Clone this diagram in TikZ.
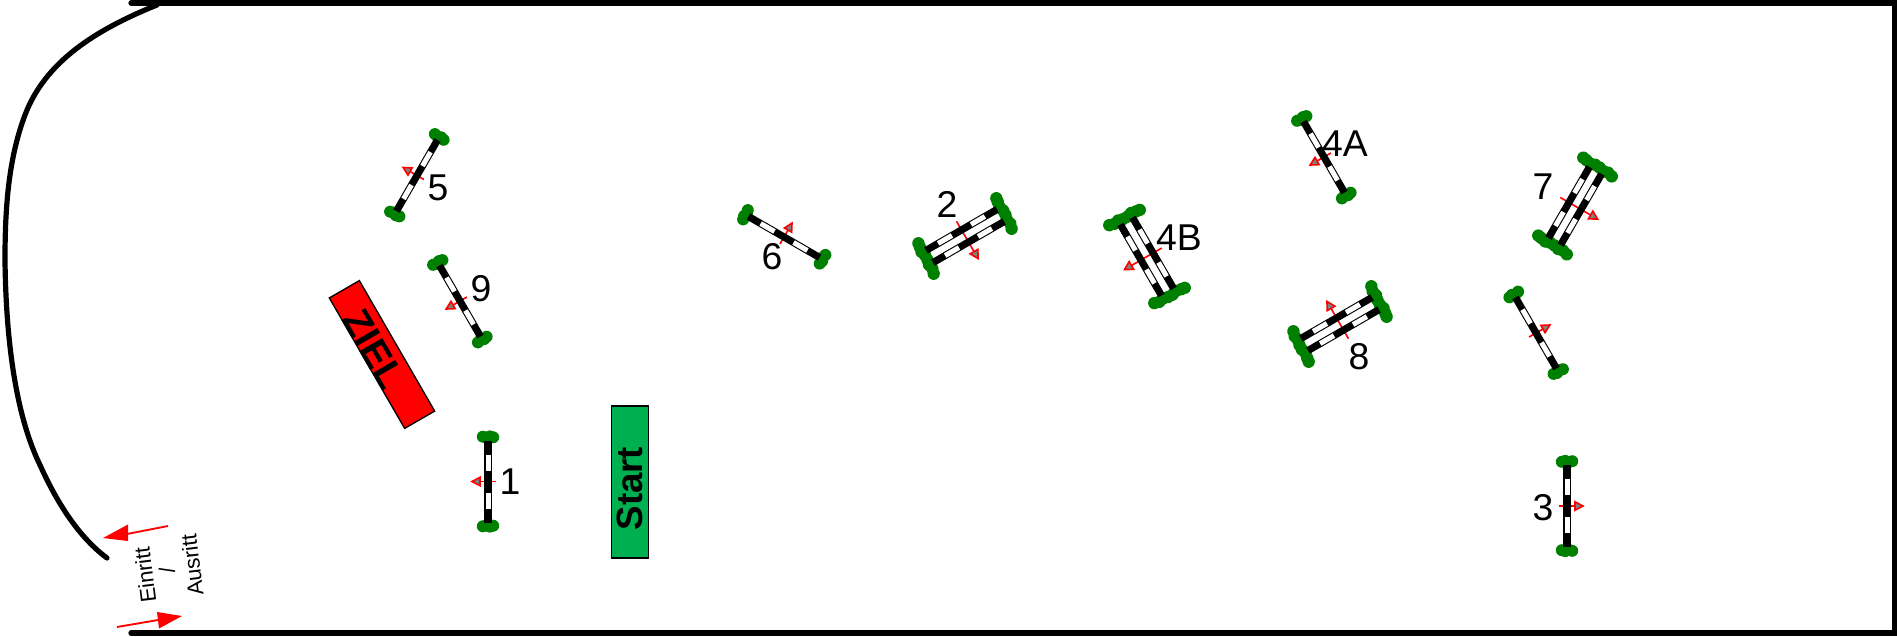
\documentclass[tikz,border=0pt]{standalone}
\usepackage{fontspec}
\setmainfont{Liberation Sans}
\definecolor{hedge}{HTML}{008000}
\definecolor{startgreen}{HTML}{00B050}
\newcommand{\onerail}[1]{%
  \fill[railblack] (#1-3.6,-41) rectangle (#1+3.6,41);
  \fill[railwhite] (#1-2.5,-27) rectangle (#1+2.5,-11);
  \fill[railwhite] (#1-2.5,11) rectangle (#1+2.5,27);
}
\tikzset{
  x=0.75pt,y=-0.75pt,
  hedgeblob/.style={fill=hedge,draw=none},
  railblack/.style={fill=black,draw=none},
  railwhite/.style={fill=white,draw=none},
  dirline/.style={draw=red,line width=1.2pt},
  dirhead/.style={draw=red,fill=gray,line width=1.2pt,line join=miter},
  numlabel/.style={font=\fontsize{28}{28}\selectfont,inner sep=0pt,text=black},
  gatelabel/.style={font=\fontsize{16.5}{16.5}\selectfont,inner sep=0pt,text=black,rotate=97},
  wall/.style={draw=black,line width=3.9pt,line cap=round,line join=miter},
  bigarrow/.style={draw=red,line width=1.4pt},
  bighead/.style={fill=red,draw=none},
  zone/.style={draw=black,line width=1pt,inner sep=0pt,font=\bfseries\fontsize{27.5}{27.5}\selectfont},
  single/.pic={
    \draw[dirline] (8,0) -- (-9,0);
    \draw[dirhead] (-16,0) -- (-8,-4.2) -- (-8,4.2) -- cycle;
    \foreach \ya/\sg in {-44.5/-1,44.5/1}{
      \foreach \xa/\yb in {-5.2/0.3,-1.8/-0.6,1.8/0.6,5.2/-0.3}{
        \fill[hedgeblob] (\xa,\ya+\sg*\yb) circle (6);
      }
    }
    \onerail{0}
  },
  double/.pic={
    \draw[dirline] (17,0) -- (-19,0);
    \draw[dirhead] (-26,0) -- (-18,-4.5) -- (-18,4.5) -- cycle;
    \foreach \ya in {-45,45}{
      \foreach \xa/\yb in {-17/-1,-12/0.4,-7/-0.6,-2/0.6,3/0.8,8/-0.6,13/0.4,17/1}{
        \fill[hedgeblob] (\xa,\ya+\yb) circle (6.2);
      }
    }
    \onerail{-7}
    \onerail{7}
  }
}
\begin{document}
\begin{tikzpicture}
\useasboundingbox (0,0) rectangle (1897,636);
\fill[white] (0,0) rectangle (1897,636);

% arena
\draw[wall] (131,3) -- (1895,3) -- (1895,633) -- (131,633);
\draw[wall] (157,5) .. controls (95,30) and (45,62) .. (25,115)
  .. controls (8,160) and (5,210) .. (5,260)
  .. controls (6,350) and (18,420) .. (40,465)
  .. controls (58,505) and (80,538) .. (107,558);

% gate
\coordinate (inTail) at (168,526);
\coordinate (inBase) at (127,534);
\coordinate (outTail) at (117,627);
\coordinate (outBase) at (158,620);
\draw[bigarrow] (inTail) -- (inBase);
\fill[bighead] (103,538) -- (128,524.5) -- (128,541) -- cycle;
\draw[bigarrow] (outTail) -- (outBase);
\fill[bighead] (182,616) -- (157,612) -- (159,628.5) -- cycle;
\node[gatelabel] (einritt) at (145,575) {Einritt};
\node[gatelabel] (slash) at (167,570) {/};
\node[gatelabel] (ausritt) at (192,565) {Ausritt};

% zones
\node[zone,fill=red,rotate=-60,minimum width=113pt,minimum height=26pt] (ziel) at (382,354.5) {};
\node[inner sep=0pt,rotate=-60,font=\bfseries\fontsize{29}{29}\selectfont] (zieltext) at (374,349) {ZIEL};
\node[zone,fill=startgreen,rotate=90,minimum width=114pt,minimum height=28pt] (start) at (630,482) {Start\kern10pt};

% jumps
\pic[rotate=0] (j1) at (488,481.5) {single};
\pic[rotate=180] (j3) at (1567,506) {single};
\pic[rotate=-30] (j5) at (417,175.5) {single};
\pic[rotate=30] (j9) at (460,301) {single};
\pic[rotate=240] (j6) at (784,237) {single};
\pic[rotate=30] (j4a) at (1324,157) {single};
\pic[rotate=210] (j10) at (1536,333) {single};
\pic[rotate=120] (j2) at (965,236) {double};
\pic[rotate=30] (j4b) at (1147,256.5) {double};
\pic[rotate=-60] (j8) at (1340,324) {double};
\pic[rotate=150] (j7) at (1575,206) {double};

% labels
\node[numlabel] (n1) at (510,482) {1};
\node[numlabel] (n2) at (947,204) {2};
\node[numlabel] (n3) at (1543,508) {3};
\node[numlabel] (n4a) at (1345,144) {4A};
\node[numlabel] (n4b) at (1179,238) {4B};
\node[numlabel] (n5) at (438,188) {5};
\node[numlabel] (n6) at (772,257) {6};
\node[numlabel] (n7) at (1543,187) {7};
\node[numlabel] (n8) at (1359,357) {8};
\node[numlabel] (n9) at (481,289) {9};
\end{tikzpicture}
\end{document}
